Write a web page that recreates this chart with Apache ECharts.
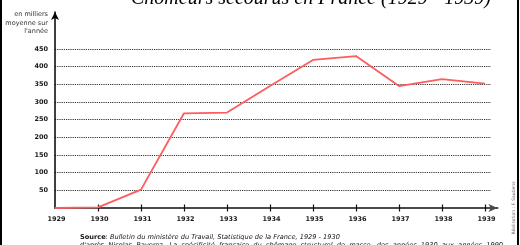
<!DOCTYPE html>
<html><head><meta charset="utf-8">
<script src="https://cdn.jsdelivr.net/npm/echarts@6/dist/echarts.min.js"></script>
<style>html,body{margin:0;padding:0;background:#fff}#c{width:520px;height:245px}</style>
</head><body><div id="c"></div>
<script>
const years = [1929, 1930, 1931, 1932, 1933, 1934, 1935, 1936, 1937, 1938, 1939];
const chomeurs = [0, 2, 52, 268, 270, 345, 419, 430, 345, 365, 352];
const yTickValues = [50, 100, 150, 200, 250, 300, 350, 400, 450];
const titleText = 'Chômeurs secourus en France (1929 - 1939)';
const unitLines = ['en milliers', 'moyenne sur', "l'année"];

const chart = echarts.init(document.getElementById('c'), null, {renderer: 'canvas'});
const font = 'DejaVu Sans';
chart.setOption({
  animation: false,
  backgroundColor: '#fff',
  grid: [
    {left: 55, right: 29, top: 49, bottom: 37},
    {left: 55, right: 22.5, top: 12, bottom: 37}
  ],
  xAxis: [
    {gridIndex: 0, type: 'value', min: 1929, max: 1939.14, show: false},
    {gridIndex: 1, type: 'value', position: 'bottom', min: 1929, max: 1939.29,
      axisLine: {show: true, lineStyle: {color: '#4a4a4a', width: 2},
        symbol: ['none', 'arrow'], symbolSize: [6, 9]},
      axisTick: {show: true, customValues: years.slice(1), length: 3.5, lineStyle: {color: '#111', width: 1.2}},
      axisLabel: {customValues: years, formatter: v => String(v), color: '#1a1a1a', fontFamily: font, fontWeight: 'bold', fontSize: 6.5, margin: 8, padding: [0, 0, 0, 3]},
      splitLine: {show: false}},
    {gridIndex: 1, type: 'value', position: 'bottom', min: 1929, max: 1939.29,
      axisLine: {show: false},
      axisTick: {show: true, inside: true, customValues: years.slice(1), length: 3.5, lineStyle: {color: '#111', width: 1.2}},
      axisLabel: {show: false}, splitLine: {show: false}}
  ],
  yAxis: [
    {gridIndex: 0, type: 'value', min: 0, max: 450, interval: 50,
      axisLine: {show: false}, axisTick: {show: false},
      axisLabel: {customValues: yTickValues, color: '#1a1a1a', fontFamily: font, fontWeight: 'bold', fontSize: 6.5, margin: 7},
      splitLine: {show: true, lineStyle: {color: '#333', width: 1, type: [1.2, 1]}}},
    {gridIndex: 1, type: 'value', min: 0, max: 1,
      axisLine: {show: true, lineStyle: {color: '#000', width: 1.5},
        symbol: ['none', 'arrow'], symbolSize: [6, 8]},
      axisTick: {show: false}, axisLabel: {show: false}, splitLine: {show: false}}
  ],
  series: [{
    type: 'line', xAxisIndex: 0, yAxisIndex: 0,
    data: years.map((y, i) => [y, chomeurs[i]]),
    showSymbol: false, symbol: 'none',
    lineStyle: {color: '#ff5c5c', width: 1.8}
  }],
  graphic: [
    {type: 'rect', shape: {x: 0, y: 0, width: 2, height: 245}, style: {fill: '#000'}},
    {type: 'rect', shape: {x: 517, y: 0, width: 2, height: 245}, style: {fill: '#000'}},
    {type: 'text', x: 311, y: 8.5, style: {text: titleText, fill: '#000', font: 'italic 20px "Liberation Serif"', textAlign: 'center', textVerticalAlign: 'bottom'}},
    {type: 'text', x: 48, y: 10.5, style: {text: unitLines.join('\n'), fill: '#333', fontFamily: font, fontSize: 6.5, lineHeight: 8.4, textAlign: 'right', textVerticalAlign: 'top'}},
    {type: 'text', x: 80, y: 237.3, style: {
      text: '{b|Source}{n|: }{i|Bulletin du ministère du Travail, Statistique de la France, 1929 - 1930}',
      textVerticalAlign: 'middle',
      rich: {b: {fontFamily: font, fontSize: 6.6, fontWeight: 'bold', fill: '#111'},
             n: {fontFamily: font, fontSize: 6.6, fill: '#111'},
             i: {fontFamily: font, fontSize: 6.6, fontStyle: 'italic', fill: '#111'}}}},
    {type: 'text', x: 80, y: 245.6, style: {
      text: "{n|d'après  Nicolas  Baverez,  }{i|La  spécificité  française  du  chômage  structurel  de  masse,  des  années  1930  aux  années  1990}",
      textVerticalAlign: 'middle',
      rich: {n: {fontFamily: font, fontSize: 6.6, fill: '#111'},
             i: {fontFamily: font, fontSize: 6.6, fontStyle: 'italic', fill: '#111'}}}},
    {type: 'text', x: 514, y: 208, rotation: Math.PI / 2, style: {text: 'Réalisation : F. Saubens', fill: '#666', fontFamily: font, fontSize: 4.5, textAlign: 'center', textVerticalAlign: 'middle'}}
  ]
});
</script></body></html>
